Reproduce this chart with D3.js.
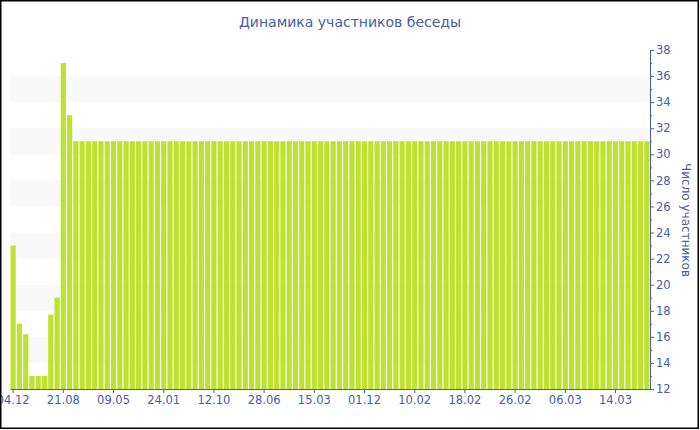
<!DOCTYPE html>
<html><head><meta charset="utf-8">
<script src="https://cdn.jsdelivr.net/npm/d3@7/dist/d3.min.js"></script>
<style>body{margin:0;background:#fff}svg{display:block}</style>
</head><body>
<svg id="c" width="700" height="430"></svg>
<script>
const title = "Динамика участников беседы";
const yTitle = "Число участников";
const values = [23,17,16.2,13,13,13,17.7,19,37,33,
31,31,31,31,31,31,31,31,31,31,
31,31,31,31,31,31,31,31,31,31,
31,31,31,31,31,31,31,31,31,31,
31,31,31,31,31,31,31,31,31,31,
31,31,31,31,31,31,31,31,31,31,
31,31,31,31,31,31,31,31,31,31,
31,31,31,31,31,31,31,31,31,31,
31,31,31,31,31,31,31,31,31,31,
31,31,31,31,31,31,31,31,31,31,
31,31];
const categories = d3.range(values.length);
const tickIndex = [0,8,16,24,32,40,48,56,64,72,80,88,96];
const tickLabels = ["04.12","21.08","09.05","24.01","12.10","28.06","15.03","01.12","10.02","18.02","26.02","06.03","14.03"];
const yTicks = [12,14,16,18,20,22,24,26,28,30,32,34,36,38];
const bands = [[34,36],[30,32],[26,28],[22,24],[18,20],[14,16]];

const blue = "#4560a6";
const font = "DejaVu Sans, Verdana, sans-serif";
const svg = d3.select("#c");
const L = 10, R = 650, T = 50, B = 389;
const x = d3.scaleBand().domain(categories).range([L, R]).paddingInner(0.18).paddingOuter(0.09);
const y = d3.scaleLinear().domain([12, 38]).range([B, T]);

svg.append("g").selectAll("rect").data(bands).join("rect")
  .attr("x", L).attr("width", R - L)
  .attr("y", d => y(d[1])).attr("height", d => y(d[0]) - y(d[1]))
  .attr("fill", "#f9f9f9");

svg.append("g").selectAll("rect").data(values).join("rect")
  .attr("x", (d, i) => x(categories[i]))
  .attr("width", x.bandwidth())
  .attr("y", d => y(d))
  .attr("height", d => y(12) - y(d))
  .attr("fill", "#bde22f");

// right axis
const ya = svg.append("g").attr("transform", `translate(${R},0)`)
  .call(d3.axisRight(y).tickValues(yTicks).tickSize(4).tickSizeOuter(0).tickPadding(2).tickFormat(d3.format("d")));
ya.select(".domain").attr("stroke", blue);
ya.selectAll(".tick line").attr("stroke", blue);
ya.selectAll("text").attr("fill", blue).attr("font-family", font).attr("font-size", 11.5);
svg.append("g").selectAll("line").data(d3.range(13, 38, 2)).join("line")
  .attr("x1", R).attr("x2", R + 2).attr("y1", d => y(d) + 0.5).attr("y2", d => y(d) + 0.5)
  .attr("stroke", blue).attr("stroke-width", 1);

// bottom axis
const xa = svg.append("g").attr("transform", `translate(0,${B})`)
  .call(d3.axisBottom(x).tickValues(tickIndex).tickSize(4).tickSizeOuter(0).tickPadding(3)
    .tickFormat((d, i) => tickLabels[i]));
xa.select(".domain").attr("stroke", blue);
xa.selectAll(".tick line").attr("stroke", blue);
xa.selectAll("text").attr("fill", blue).attr("font-family", font).attr("font-size", 11.5);

svg.append("text").attr("x", 350).attr("y", 27).attr("text-anchor", "middle")
  .attr("fill", blue).attr("font-family", font).attr("font-size", 14).text(title);

svg.append("text").attr("transform", "translate(682,220) rotate(90)")
  .attr("text-anchor", "middle").attr("fill", blue).attr("font-family", font)
  .attr("font-size", 12).text(yTitle);

svg.append("rect").attr("x", 0.75).attr("y", 0.75).attr("width", 697.5).attr("height", 427.5)
  .attr("fill", "none").attr("stroke", "#000").attr("stroke-width", 1.5);
</script>
</body></html>
